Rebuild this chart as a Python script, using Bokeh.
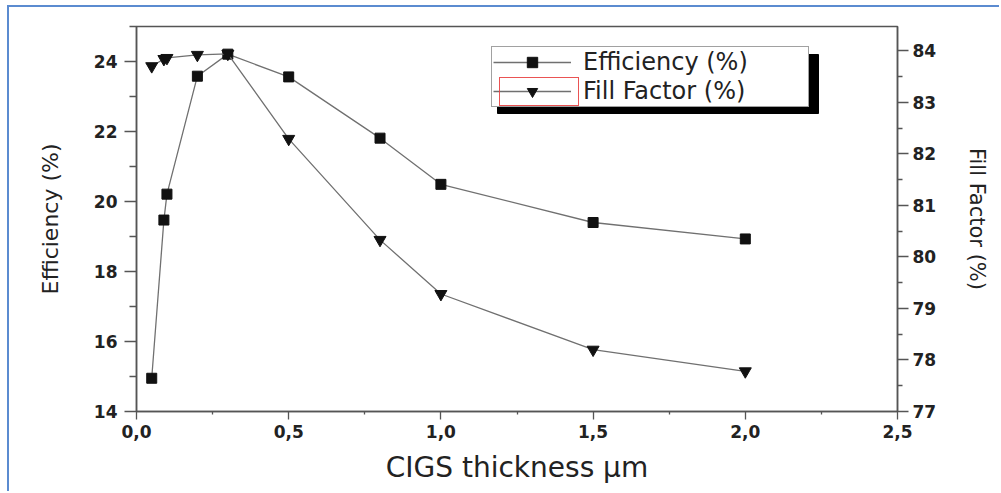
from bokeh.plotting import figure
from bokeh.models import (Range1d, LinearAxis, Legend, LegendItem, FixedTicker,
                          CustomJSTickFormatter, BoxAnnotation)
from bokeh.core.properties import value
from bokeh.embed import file_html
from bokeh.resources import INLINE

# CIGS absorber thickness (µm) and device results
thickness = [0.05, 0.09, 0.1, 0.2, 0.3, 0.5, 0.8, 1.0, 1.5, 2.0]
efficiency = [14.95, 19.47, 20.21, 23.58, 24.21, 23.56, 21.81, 20.49, 19.40, 18.93]
fill_factor = [83.70, 83.84, 83.86, 83.92, 83.94, 82.29, 80.33, 79.28, 78.20, 77.78]

x_ticks = [0.0, 0.5, 1.0, 1.5, 2.0, 2.5]
eff_ticks = [14, 16, 18, 20, 22, 24]
ff_ticks = [77, 78, 79, 80, 81, 82, 83, 84]

FONT = "DejaVu Sans"
INK = "#222222"
AXIS = "#555555"
LINE = "#707070"
MARK = "#111111"
FRAME_BLUE = "#5b8bd0"

p = figure(width=992, height=486,
           x_range=Range1d(0, 2.5), y_range=Range1d(14, 25),
           output_backend="svg", toolbar_location=None,
           min_border_left=127, min_border_right=104,
           min_border_top=19, min_border_bottom=82,
           styles={"margin-left": "7px", "margin-top": "5px",
                   "border-left": f"2px solid {FRAME_BLUE}",
                   "border-top": f"2px solid {FRAME_BLUE}"})
p.extra_y_ranges = {"ff": Range1d(77, 84.47)}
p.xgrid.visible = False
p.ygrid.visible = False
p.outline_line_color = AXIS
p.outline_line_width = 1.5
p.background_fill_color = "white"
p.border_fill_color = "white"

def style_axis(ax):
    ax.axis_line_color = AXIS
    ax.axis_line_width = 1.5
    ax.major_tick_line_color = AXIS
    ax.minor_tick_line_color = AXIS
    ax.major_tick_line_width = 1.3
    ax.minor_tick_line_width = 1.3
    ax.major_tick_in = 0
    ax.minor_tick_in = 0
    ax.major_label_text_font = FONT
    ax.major_label_text_font_style = "bold"
    ax.major_label_text_font_size = "17px"
    ax.major_label_text_color = INK
    ax.axis_label_text_font = FONT
    ax.axis_label_text_font_style = "normal"
    ax.axis_label_text_color = INK

# x axis
xa = p.xaxis[0]
style_axis(xa)
xa.ticker = FixedTicker(ticks=x_ticks, minor_ticks=[0.25, 0.75, 1.25, 1.75, 2.25])
xa.formatter = CustomJSTickFormatter(code="return tick.toFixed(1).replace('.', ',');")
xa.major_tick_out = 8
xa.minor_tick_out = 3
xa.major_label_standoff = 5
xa.axis_label = "CIGS thickness \u03bcm"
xa.axis_label_text_font_size = "28px"
xa.axis_label_standoff = 10

# left axis: efficiency
ya = p.yaxis[0]
style_axis(ya)
ya.ticker = FixedTicker(ticks=eff_ticks, minor_ticks=[15, 17, 19, 21, 23, 25])
ya.major_tick_out = 12
ya.minor_tick_out = 7
ya.major_label_standoff = 7
ya.axis_label = "Efficiency (%)"
ya.axis_label_text_font_size = "22px"
ya.axis_label_standoff = 28

# right axis: fill factor
ra = LinearAxis(y_range_name="ff")
style_axis(ra)
ra.ticker = FixedTicker(ticks=ff_ticks, minor_ticks=[77.5, 78.5, 79.5, 80.5, 81.5, 82.5, 83.5])
ra.major_tick_out = 11
ra.minor_tick_out = 5
ra.major_label_standoff = 4
ra.axis_label = "Fill Factor (%)"
ra.axis_label_text_font_size = "21px"
ra.axis_label_standoff = 26
p.add_layout(ra, "right")

# data
l_eff = p.line(thickness, efficiency, line_color=LINE, line_width=1.3)
s_eff = p.scatter(thickness, efficiency, marker="square", size=10,
                  fill_color=MARK, line_color=MARK)
l_ff = p.line(thickness, fill_factor, line_color=LINE, line_width=1.3, y_range_name="ff")
s_ff = p.scatter(thickness, fill_factor, marker="inverted_triangle", size=12,
                 fill_color=MARK, line_color=MARK, y_range_name="ff")

# legend drop shadow (frame-relative pixels, y upward)
p.add_layout(BoxAnnotation(left=361, right=682, top=357, bottom=298,
                           left_units="screen", right_units="screen",
                           top_units="screen", bottom_units="screen",
                           fill_color="black", fill_alpha=1,
                           line_color="black", line_alpha=1))

legend = Legend(items=[LegendItem(label="Efficiency (%)", renderers=[l_eff, s_eff]),
                       LegendItem(label="Fill Factor (%)", renderers=[l_ff, s_ff])],
                location=(355, 304), orientation="vertical",
                padding=1, spacing=1, margin=0,
                glyph_width=78, glyph_height=26, label_height=26,
                label_width=224, label_standoff=12,
                label_text_font=FONT, label_text_font_size="24px",
                label_text_line_height=1.0,
                label_text_color=INK,
                background_fill_color="white", background_fill_alpha=1.0,
                border_line_color="#444444", border_line_width=1)
p.add_layout(legend, "center")

# red selection outline around the fill-factor key (empty, transparent key glyph)
ghost = p.scatter(x=[], y=[], marker="square", fill_alpha=0, line_alpha=0)
key_box = Legend(items=[LegendItem(label=value(""), renderers=[ghost])],
                 location=(363, 305), orientation="vertical",
                 padding=0, spacing=0, margin=0,
                 glyph_width=78, glyph_height=27, label_height=27,
                 label_width=0, label_standoff=0,
                 label_text_font_size="1px",
                 background_fill_alpha=0.0,
                 border_line_color="#e84040", border_line_width=1,
                 border_line_alpha=0.9)
p.add_layout(key_box, "center")

open("out.html", "w").write(file_html(p, INLINE))
